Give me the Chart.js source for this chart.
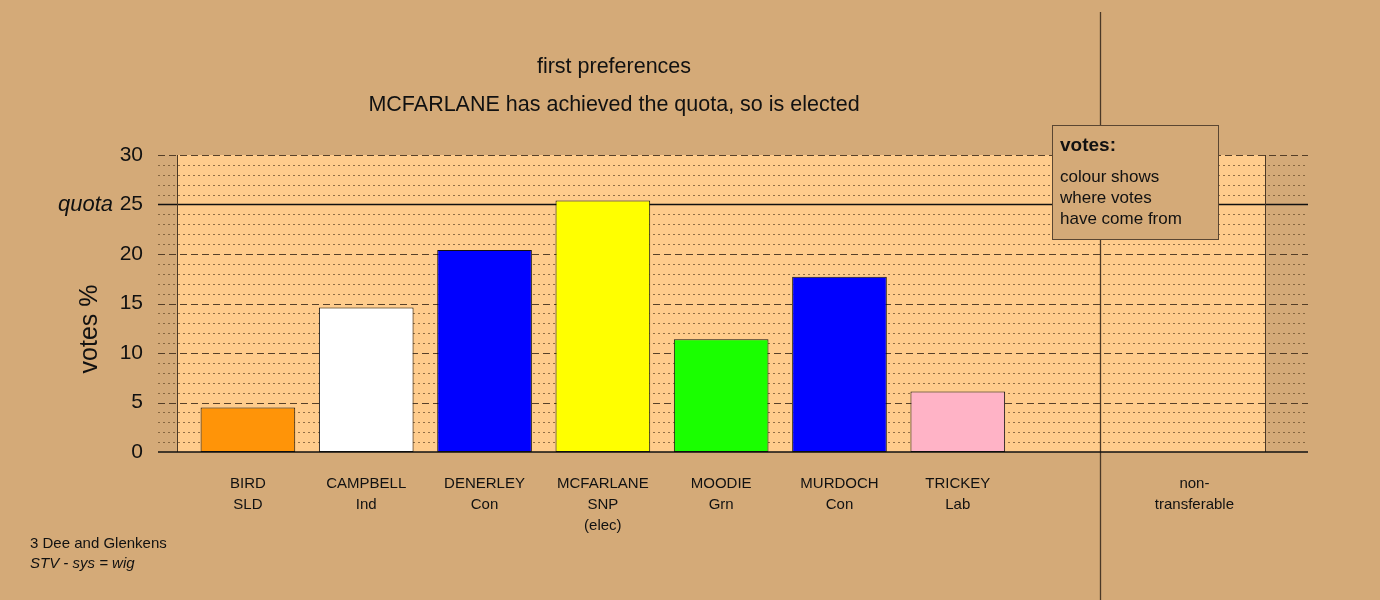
<!DOCTYPE html>
<html><head><meta charset="utf-8">
<script src="https://cdn.jsdelivr.net/npm/chart.js@4.4.1/dist/chart.umd.min.js"></script>
<style>html,body{margin:0;padding:0;background:#D4AA78;}#wrap{width:1380px;height:600px;position:relative}</style>
</head><body><div id="wrap"><canvas id="c" width="1380" height="600"></canvas></div>
<script>
const candidateNames = ['BIRD','CAMPBELL','DENERLEY','MCFARLANE','MOODIE','MURDOCH','TRICKEY'];
const parties = ['SLD','Ind','Con','SNP','Grn','Con','Lab'];
const notes = ['','','','(elec)','','',''];
const firstPrefs = [4.5,14.6,20.4,25.4,11.4,17.7,6.1];
const barColours = ['#FF9408','#FFFFFF','#0000FF','#FFFF00','#1AFF00','#0000FF','#FFB3C6'];
const nonTransferableLabel = ['non-','transferable'];
const nonTransferable = 0;
const quota = 25;
const yMajorTicks = [5,10,15,20,30];
const yMinorStep = 1;
const titleLines = ['first preferences','MCFARLANE has achieved the quota, so is elected'];
const legendLines = ['colour shows','where votes','have come from'];
const footerLines = ['3 Dee and Glenkens','STV - sys = wig'];

const FONT = "'Liberation Sans', Arial, sans-serif";
const BG = '#D4AA78', PANEL = '#FFCC8C';
const nonTransPos = candidateNames.length + 1;

const points = firstPrefs.map((v,i)=>({x:i,y:v}));
points.push({x:nonTransPos,y:nonTransferable});
const colours = barColours.concat(['#888888']);

const deco = {
  id:'deco',
  beforeDraw(chart){
    const {ctx, scales:{x,y}} = chart;
    ctx.save();
    ctx.fillStyle = BG; ctx.fillRect(0,0,chart.width,chart.height);
    const L = x.left, R = x.right;
    const pL = x.getPixelForValue(-0.6), pR = x.getPixelForValue(nonTransPos+0.6);
    const top = y.getPixelForValue(30), bot = y.getPixelForValue(0);
    ctx.fillStyle = PANEL; ctx.fillRect(pL, top, pR-pL, bot-top);
    ctx.lineWidth = 1;
    ctx.strokeStyle = 'rgba(110,80,45,0.75)';
    ctx.setLineDash([2,3]);
    for(let v=0; v<30; v+=yMinorStep){
      if(v%5===0) continue;
      const py = Math.round(y.getPixelForValue(v))+0.5;
      ctx.beginPath(); ctx.moveTo(L,py); ctx.lineTo(R,py); ctx.stroke();
    }
    ctx.strokeStyle = 'rgba(70,50,30,0.9)';
    ctx.setLineDash([7,4]);
    yMajorTicks.forEach(v=>{
      const py = Math.round(y.getPixelForValue(v))+0.5;
      ctx.beginPath(); ctx.moveTo(L,py); ctx.lineTo(R,py); ctx.stroke();
    });
    ctx.setLineDash([]);
    ctx.strokeStyle = '#111'; ctx.lineWidth = 1.5;
    const qy = y.getPixelForValue(quota);
    ctx.beginPath(); ctx.moveTo(L,qy); ctx.lineTo(R,qy); ctx.stroke();
    ctx.strokeStyle = '#4a3826'; ctx.lineWidth = 1;
    [pL,pR].forEach(px=>{
      const xx = Math.round(px)+0.5;
      ctx.beginPath(); ctx.moveTo(xx,top); ctx.lineTo(xx,bot); ctx.stroke();
    });
    const sx = Math.round(x.getPixelForValue(nonTransPos-0.8))+0.5;
    ctx.strokeStyle = '#4a3826'; ctx.lineWidth = 1.3;
    ctx.beginPath(); ctx.moveTo(sx,12); ctx.lineTo(sx,chart.height); ctx.stroke();
    ctx.restore();
  },
  afterDatasetsDraw(chart){
    const {ctx, scales:{x,y}} = chart;
    ctx.save();
    const by = y.getPixelForValue(0);
    ctx.strokeStyle = '#111'; ctx.lineWidth = 1.5;
    ctx.beginPath(); ctx.moveTo(x.left,by); ctx.lineTo(x.right,by); ctx.stroke();
    ctx.fillStyle = '#111'; ctx.textAlign = 'center'; ctx.textBaseline = 'middle';
    ctx.font = `21.5px ${FONT}`;
    ctx.fillText(titleLines[0], 614, 67);
    ctx.fillText(titleLines[1], 614, 105);
    ctx.save();
    ctx.translate(90, 329); ctx.rotate(-Math.PI/2);
    ctx.font = `25px ${FONT}`;
    ctx.fillText('votes %', 0, 0);
    ctx.restore();
    ctx.textAlign = 'right';
    ctx.font = `italic 22px ${FONT}`;
    ctx.fillText('quota', 113, y.getPixelForValue(quota));
    ctx.fillStyle = BG; ctx.fillRect(1052.5,125.5,166,114);
    ctx.strokeStyle = '#5a4632'; ctx.lineWidth = 1;
    ctx.strokeRect(1052.5,125.5,166,114);
    ctx.fillStyle = '#111'; ctx.textAlign = 'left';
    ctx.font = `bold 19px ${FONT}`;
    ctx.fillText('votes:', 1060, 146);
    ctx.font = `17px ${FONT}`;
    legendLines.forEach((t,i)=>ctx.fillText(t, 1060, 177 + i*21));
    ctx.font = `15px ${FONT}`;
    ctx.fillText(footerLines[0], 30, 544);
    ctx.font = `italic 15px ${FONT}`;
    ctx.fillText(footerLines[1], 30, 564);
    ctx.restore();
  }
};

new Chart(document.getElementById('c'), {
  type:'bar',
  data:{ datasets:[{ data: points, backgroundColor: colours, borderColor:'#111', borderWidth:1, borderSkipped:false,
    barPercentage:0.8, categoryPercentage:1.0 }]},
  options:{
    responsive:false, animation:false, devicePixelRatio:1,
    layout:{padding:{left:0,right:72,top:155,bottom:0}},
    plugins:{legend:{display:false}, tooltip:{enabled:false}, title:{display:false}},
    scales:{
      x:{ type:'linear', min:-0.76, max:8.96, offset:false, grace:0,
        grid:{display:false, offset:false}, border:{display:false},
        afterBuildTicks(s){ s.ticks = candidateNames.map((_,i)=>({value:i})).concat([{value:nonTransPos}]); },
        afterFit(s){ s.height = 148; },
        ticks:{ autoSkip:false, maxRotation:0, minRotation:0, padding:14, color:'#111',
          font:{size:15, family:FONT, lineHeight:1.37},
          callback(v){
            if(v===nonTransPos) return nonTransferableLabel;
            const i = Math.round(v);
            const lines = [candidateNames[i], parties[i]];
            if(notes[i]) lines.push(notes[i]);
            return lines;
          } } },
      y:{ min:0, max:30,
        grid:{display:false}, border:{display:false},
        afterFit(s){ s.width = 158; },
        ticks:{ stepSize:5, padding:7, color:'#111', font:{size:21, family:FONT} } }
    }
  },
  plugins:[deco]
});
</script></body></html>
